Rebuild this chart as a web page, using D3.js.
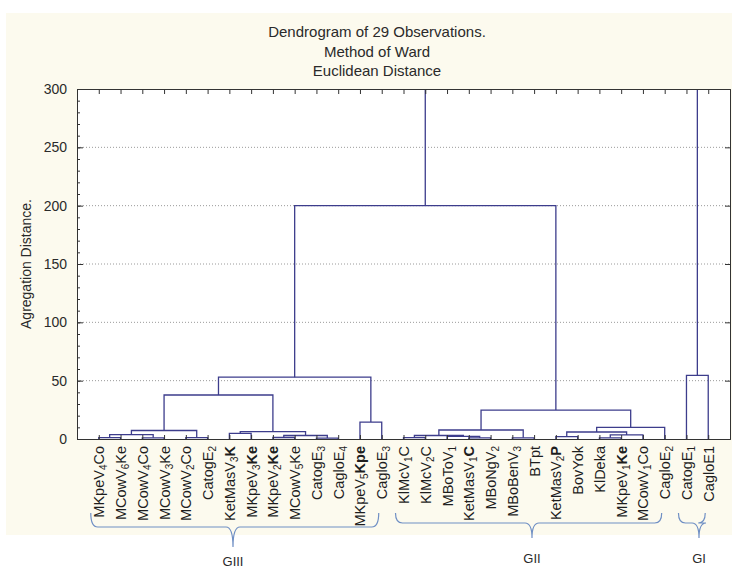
<!DOCTYPE html>
<html><head><meta charset="utf-8">
<script src="https://cdn.jsdelivr.net/npm/d3@7"></script>
<style>
html,body{margin:0;padding:0;background:#fff;}
svg{display:block;font-family:"Liberation Sans",Arial,sans-serif;}
</style></head>
<body>
<svg id="chart" width="732" height="570"></svg>
<script>
// ---- data ----
const titleLines = ["Dendrogram of 29 Observations.", "Method of Ward", "Euclidean Distance"];
const yAxisLabel = "Agregation Distance.";
const yTicks = [0, 50, 100, 150, 200, 250, 300];
// leaf labels in dendrogram order; "_x" = subscript char, "*...*" = bold part
const leaves = ["MKpeV_4Co","MCowV_6Ke","MCowV_4Co","MCowV_3Ke","MCowV_2Co","CatogE_2",
  "KetMasV_3*K*","MKpeV_3*Ke*","MKpeV_2*Ke*","MCowV_5Ke","CatogE_3","CagloE_4","MKpeV_5*Kpe*","CagloE_3",
  "KlMcV_1C","KlMcV_2C","MBoToV_1","KetMasV_1*C*","MBoNgV_2","MBoBenV_3","BTpt","KetMasV_2*P*",
  "BovYok","KlDeka","MKpeV_1*Ke*","MCowV_1Co","CagloE_2","CatogE_1","CagloE1"];
// merges: [child A, child B, distance]; ids 0..28 = leaves, 29+ = merge k
const merges = [
  [0,1,1.2],[2,3,1.0],[29,30,3.8],[4,5,1.2],[31,32,7.3],
  [6,7,4.8],[8,9,1.3],[10,11,0.8],[35,36,3.0],[34,37,6.3],
  [33,38,37.7],[12,13,14.5],[39,40,53],
  [14,15,1.2],[17,18,1.0],[16,43,2.2],[42,44,3.0],[19,20,1.0],[45,46,7.7],
  [21,22,2.0],[23,24,1.0],[49,25,3.5],[48,50,6.0],[51,26,10.0],[47,52,24.8],
  [41,53,200],[27,28,54.5],[54,55,330]
];
const groupNames = ["GIII", "GII", "GI"];
const groupFirst = [0, 14, 27];
const groupLast = [13, 26, 28];

// ---- layout ----
const svg = d3.select("#chart");
const L = 77, R = 730, T = 89, B = 439;
const x = d3.scaleLinear().domain([0, leaves.length + 1]).range([L, R]);
const y = d3.scaleLinear().domain([0, 300]).range([B, T]);

svg.append("rect").attr("x",6).attr("y",13).attr("width",726).attr("height",522).attr("fill","#fcfaee");
svg.append("rect").attr("x",L).attr("y",T).attr("width",R-L).attr("height",B-T).attr("fill","#fff");

// title
svg.append("g").selectAll("text").data(titleLines).join("text")
  .attr("x", 377).attr("y", (d,i) => 37 + i*19.5)
  .attr("text-anchor","middle").attr("font-size","15px").attr("fill","#2a2a2a").text(d => d);

// gridlines
svg.append("g").selectAll("line").data(yTicks.filter(v => v > 0 && v < 300)).join("line")
  .attr("x1", L).attr("x2", R).attr("y1", d => y(d)).attr("y2", d => y(d))
  .attr("stroke","#9a9a9a").attr("stroke-width",1).attr("stroke-dasharray","1,2");

// node positions
const pos = leaves.map((d,i) => ({x: x(i+1), h: 0}));
merges.forEach(m => {
  const a = pos[m[0]], b = pos[m[1]];
  pos.push({x: (a.x + b.x)/2, h: m[2]});
});

svg.append("clipPath").attr("id","plotclip").append("rect")
  .attr("x", L).attr("y", T).attr("width", R-L).attr("height", B-T+1);

const dg = svg.append("g").attr("clip-path","url(#plotclip)");
dg.selectAll("path").data(merges).join("path")
  .attr("d", m => {
    const a = pos[m[0]], b = pos[m[1]];
    return `M${a.x},${y(a.h)}V${y(m[2])}H${b.x}V${y(b.h)}`;
  })
  .attr("fill","none").attr("stroke","#3d3d8c").attr("stroke-width",1.3);

// axes
const axisStyle = g => { g.select(".domain").attr("stroke","#333"); g.selectAll(".tick line").attr("stroke","#333"); };
svg.append("g").attr("transform",`translate(${L},0)`)
  .call(d3.axisLeft(y).tickValues(d3.range(0,301,10)).tickSize(-3).tickFormat(""))
  .call(axisStyle);
svg.append("g").attr("transform",`translate(${L},0)`)
  .call(d3.axisLeft(y).tickValues(yTicks).tickSize(-6).tickPadding(10))
  .call(axisStyle)
  .call(g => g.selectAll("text").attr("font-size","14px").attr("fill","#2a2a2a").attr("font-family","Liberation Sans, Arial, sans-serif"));
svg.append("g").attr("transform",`translate(${R},0)`)
  .call(d3.axisRight(y).tickValues(yTicks).tickSize(-5).tickFormat(""))
  .call(axisStyle);
svg.append("g").attr("transform",`translate(0,${T})`)
  .call(d3.axisTop(x).tickValues(d3.range(1, leaves.length+1)).tickSize(-5).tickFormat(""))
  .call(axisStyle);
svg.append("g").attr("transform",`translate(0,${B})`)
  .call(d3.axisBottom(x).tickValues(d3.range(1, leaves.length+1)).tickSize(-4).tickFormat(""))
  .call(axisStyle);

// y label
svg.append("text").attr("transform","translate(31,264) rotate(-90)")
  .attr("text-anchor","middle").attr("font-size","14px").attr("fill","#2a2a2a").text(yAxisLabel);

// leaf labels (rotated) with subscripts & bold
function parseLabel(s){
  const parts = []; let bold = false, i = 0, buf = "";
  const flush = () => { if (buf) { parts.push({t:buf, sub:false, bold}); buf = ""; } };
  while (i < s.length) {
    const c = s[i];
    if (c === "*") { flush(); bold = !bold; i++; }
    else if (c === "_") { flush(); parts.push({t:s[i+1], sub:true, bold}); i += 2; }
    else { buf += c; i++; }
  }
  flush(); return parts;
}
const lab = svg.append("g").selectAll("text").data(leaves).join("text")
  .attr("transform", (d,i) => `translate(${x(i+1)+5.5},446) rotate(-90)`)
  .attr("text-anchor","end").attr("font-size","14.5px").attr("fill","#1e1e1e");
lab.each(function(d){
  const t = d3.select(this);
  parseLabel(d).forEach(p => {
    const ts = t.append("tspan").text(p.t);
    if (p.bold) ts.attr("font-weight","bold");
    if (p.sub) ts.attr("font-size","10px").attr("baseline-shift","-25%");
  });
});

// group braces
function brace(x1, x2, xm, yTop, yMid, yTip){
  const r = 7;
  return `M${x1},${yTop}Q${x1},${yMid} ${x1+r},${yMid}L${xm-r},${yMid}Q${xm},${yMid} ${xm},${yTip}` +
         `M${xm},${yTip}Q${xm},${yMid} ${xm+r},${yMid}L${x2-r},${yMid}Q${x2},${yMid} ${x2},${yTop}`;
}
const braceY = [[513,527,547],[513,523,538],[513,523,538]];
const bg = svg.append("g");
groupNames.forEach((g, k) => {
  const x1 = x(groupFirst[k]+1) - 8, x2 = x(groupLast[k]+1) - 3;
  const xm = k === 0 ? 233 : (k === 1 ? 532 : 699);
  bg.append("path").attr("d", brace(x1, x2, xm, braceY[k][0], braceY[k][1], braceY[k][2]))
    .attr("fill","none").attr("stroke","#6f8fc4").attr("stroke-width",1.2);
  bg.append("text").attr("x", xm).attr("y", k === 0 ? 566 : 563)
    .attr("text-anchor","middle").attr("font-size","13px").attr("fill","#2a2a2a").text(g);
});
</script>
</body></html>
